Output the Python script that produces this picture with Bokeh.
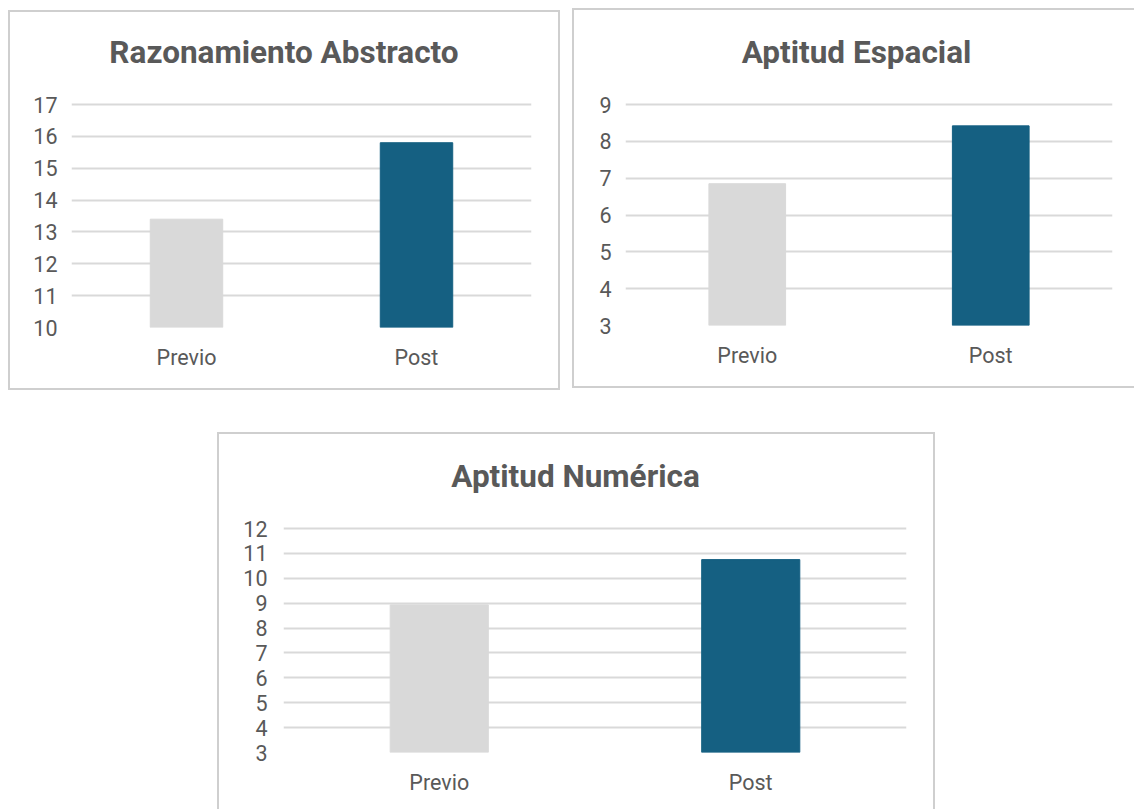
from bokeh.plotting import figure
from bokeh.models import Range1d, FactorRange, FixedTicker, Spacer, ColumnDataSource, Label
from bokeh.layouts import row, column
from bokeh.embed import file_html
from bokeh.resources import INLINE

categories = ["Previo", "Post"]
razonamiento = [13.4, 15.8]
espacial = [6.85, 8.42]
numerica = [8.93, 10.75]
bar_colors = ["#d9d9d9", "#156082"]

TEXT = "#595959"
GRID = "#d9d9d9"
FONT = "Roboto"
B = 2  # css border width


def make(title, vals, ymin, ymax, W, H, gl, gr, gt, gb, tcx, tcy, styles, lab_standoff):
    # gl/gr/gt/gb: plot-area edges in px relative to the outer box; tcx/tcy: title centre
    ppu = (gb - gt) / (ymax - ymin)
    y_end = ymax + (gt - B) / ppu
    p = figure(
        x_range=FactorRange(*categories),
        y_range=Range1d(ymin, y_end),
        width=W, height=H,
        output_backend="svg", toolbar_location=None,
        min_border_left=gl - B, min_border_right=W + B - gr,
        min_border_top=0, min_border_bottom=H + B - gb,
    )
    src = ColumnDataSource(dict(cat=categories, val=vals, color=bar_colors))
    p.vbar(x="cat", top="val", bottom=ymin, width=0.315, color="color", source=src)
    p.add_layout(Label(x=1.0, y=ymax + (gt - tcy) / ppu, x_offset=tcx - (gl + gr) / 2,
                       text=title, text_align="center", text_baseline="middle",
                       text_font=FONT, text_font_size="31.5px", text_font_style="bold",
                       text_color=TEXT))
    p.outline_line_color = None
    p.xgrid.grid_line_color = None
    p.ygrid.grid_line_color = GRID
    p.ygrid.grid_line_width = 2
    p.yaxis.ticker = FixedTicker(ticks=list(range(int(ymin), int(ymax) + 1)))
    for ax in (p.xaxis[0], p.yaxis[0]):
        ax.axis_line_color = None
        ax.major_tick_line_color = None
        ax.minor_tick_line_color = None
        ax.major_label_text_font = FONT
        ax.major_label_text_font_size = "21.5px"
        ax.major_label_text_color = TEXT
    p.yaxis.major_label_standoff = lab_standoff
    p.xaxis.major_label_standoff = 11
    p.styles = styles
    p.background_fill_color = "white"
    p.border_fill_color = "white"
    return p


border = f"{B}px solid #cfcfcf"
p1 = make("Razonamiento Abstracto", razonamiento, 10, 17, 552, 380, 63, 523, 94, 317, 275.5, 42,
          {"border": border}, 8)
p2 = make("Aptitud Espacial", espacial, 3, 9, 562, 380, 53, 540, 96, 317, 284, 44,
          {"border": border, "border-right": "none"}, 8)
p3 = make("Aptitud Numérica", numerica, 3, 12, 718, 377, 66, 689, 96, 320, 358, 44,
          {"border": border, "border-bottom": "none"}, 10)

layout = column(
    row(Spacer(width=8), column(Spacer(height=10), p1), Spacer(width=12), column(Spacer(height=8), p2)),
    Spacer(height=42),
    row(Spacer(width=217), p3),
)

open("out.html", "w").write(file_html(layout, INLINE))
